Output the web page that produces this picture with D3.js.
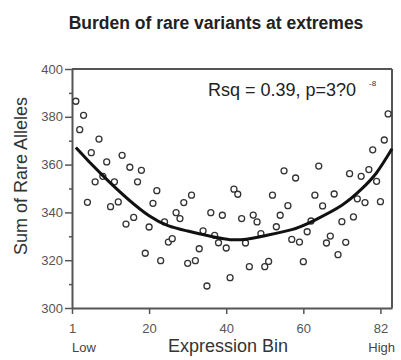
<!DOCTYPE html>
<html>
<head>
<meta charset="utf-8">
<script src="https://cdn.jsdelivr.net/npm/d3@7"></script>
<style>
  html, body { margin: 0; padding: 0; background: #fff; }
  svg { display: block; font-family: "Liberation Sans", Arial, sans-serif; }
</style>
</head>
<body>
<svg id="chart" width="401" height="360"></svg>
<script>
// ---- data ----
const bins = d3.range(1, 83); // expression bins 1..82
const rareAlleles = [
  386.5, 374.6, 380.6, 344.2, 365.0, 352.8, 370.7, 355.1, 361.1, 342.4,
  352.8, 344.4, 363.9, 335.1, 358.9, 337.9, 352.8, 357.6, 322.9, 333.9,
  343.8, 349.1, 319.8, 336.0, 327.6, 329.0, 339.9, 337.4, 344.1, 318.7,
  347.2, 319.8, 324.8, 332.3, 309.2, 339.9, 330.4, 327.3, 338.8, 325.1,
  312.7, 349.7, 347.6, 337.4, 327.2, 317.3, 338.9, 336.0, 331.1, 317.3,
  319.5, 347.2, 334.0, 338.8, 357.4, 342.8, 328.7, 354.4, 327.6, 319.4,
  331.9, 336.4, 347.2, 359.4, 342.7, 327.2, 330.1, 347.7, 322.3, 336.1,
  327.5, 356.2, 338.1, 345.7, 355.1, 344.1, 357.9, 366.2, 353.0, 344.5,
  370.3, 381.2
];
// fitted curve, read at a few bins
const fitBins   = [1, 8, 20, 30, 41, 49, 57, 63, 70, 75, 79, 83];
const fitValues = [367.2, 355.4, 338.6, 332.2, 328.6, 329.9, 332.8, 336.8, 343.0, 349.6, 356.6, 366.6];

const xTickPositions = [0, 20, 40, 60, 80];
const xTickLabels = ["1", "20", "40", "60", "82"];
const yMajorTicks = [300, 320, 340, 360, 380, 400];
const yMinorTicks = [310, 330, 350, 370, 390];

const titleText = "Burden of rare variants at extremes";
const xTitle = "Expression Bin";
const yTitle = "Sum of Rare Alleles";
const statText = "Rsq = 0.39, p=3?0";
const statExp = "-8";

// ---- layout ----
const L = 72, R = 392, T = 69, B = 308;
const svg = d3.select("#chart");
const x = d3.scaleLinear().domain([0, 83]).range([L, R]);
const y = d3.scaleLinear().domain([300, 400]).range([B, T]);
const axisColor = "#555";

// frame top/right
svg.append("line").attr("x1", L).attr("x2", R).attr("y1", T).attr("y2", T)
  .attr("stroke", axisColor).attr("stroke-width", 2);
svg.append("line").attr("x1", R).attr("x2", R).attr("y1", T).attr("y2", B)
  .attr("stroke", axisColor).attr("stroke-width", 2);

// y minor ticks
const yMinor = svg.append("g").attr("transform", `translate(${L},0)`)
  .call(d3.axisLeft(y).tickValues(yMinorTicks).tickSize(3).tickFormat(""));
yMinor.select(".domain").remove();
yMinor.selectAll("line").attr("stroke", axisColor).attr("stroke-width", 1.5);

// y axis
const yAxis = svg.append("g").attr("transform", `translate(${L},0)`)
  .call(d3.axisLeft(y).tickValues(yMajorTicks).tickSize(7).tickSizeOuter(0).tickPadding(2));
yAxis.select(".domain").attr("stroke", axisColor).attr("stroke-width", 2);
yAxis.selectAll(".tick line").attr("stroke", axisColor).attr("stroke-width", 1.5);
yAxis.selectAll("text").attr("font-size", 13).attr("fill", "#555")
  .attr("font-family", "Liberation Sans, Arial, sans-serif");

// x axis
const xAxis = svg.append("g").attr("transform", `translate(0,${B})`)
  .call(d3.axisBottom(x).tickValues(xTickPositions).tickSize(6).tickSizeOuter(0).tickPadding(10)
    .tickFormat((d, i) => xTickLabels[i]));
xAxis.select(".domain").attr("stroke", axisColor).attr("stroke-width", 2);
xAxis.selectAll(".tick line").attr("stroke", axisColor).attr("stroke-width", 1.5);
xAxis.selectAll("text").attr("font-size", 13).attr("fill", "#555")
  .attr("font-family", "Liberation Sans, Arial, sans-serif");

// points
svg.append("g").selectAll("circle").data(bins).join("circle")
  .attr("cx", d => x(d))
  .attr("cy", (d, i) => y(rareAlleles[i]))
  .attr("r", 3)
  .attr("fill", "#fff")
  .attr("stroke", "#333")
  .attr("stroke-width", 1.3);

// fit curve
const fitLine = d3.line()
  .x((d, i) => x(fitBins[i]))
  .y(d => y(d))
  .curve(d3.curveNatural);
svg.append("path").attr("d", fitLine(fitValues))
  .attr("fill", "none").attr("stroke", "#111").attr("stroke-width", 3);

// title
svg.append("text").attr("x", 216).attr("y", 29).attr("text-anchor", "middle")
  .attr("font-size", 17.5).attr("font-weight", "bold").attr("fill", "#222")
  .text(titleText);

// stats annotation
svg.append("text").attr("x", 208).attr("y", 96)
  .attr("font-size", 18).attr("fill", "#222").text(statText);
svg.append("text").attr("x", 369).attr("y", 86)
  .attr("font-size", 8).attr("fill", "#333").text(statExp);

// axis titles
svg.append("text").attr("x", 228).attr("y", 352).attr("text-anchor", "middle")
  .attr("font-size", 18).attr("fill", "#333").text(xTitle);
svg.append("text").attr("x", 72).attr("y", 352).attr("text-anchor", "start")
  .attr("font-size", 13).attr("fill", "#444").text("Low");
svg.append("text").attr("x", 395).attr("y", 352).attr("text-anchor", "end")
  .attr("font-size", 13).attr("fill", "#444").text("High");
svg.append("text").attr("transform", "translate(27,176) rotate(-90)")
  .attr("text-anchor", "middle").attr("font-size", 18).attr("fill", "#333")
  .text(yTitle);
</script>
</body>
</html>
